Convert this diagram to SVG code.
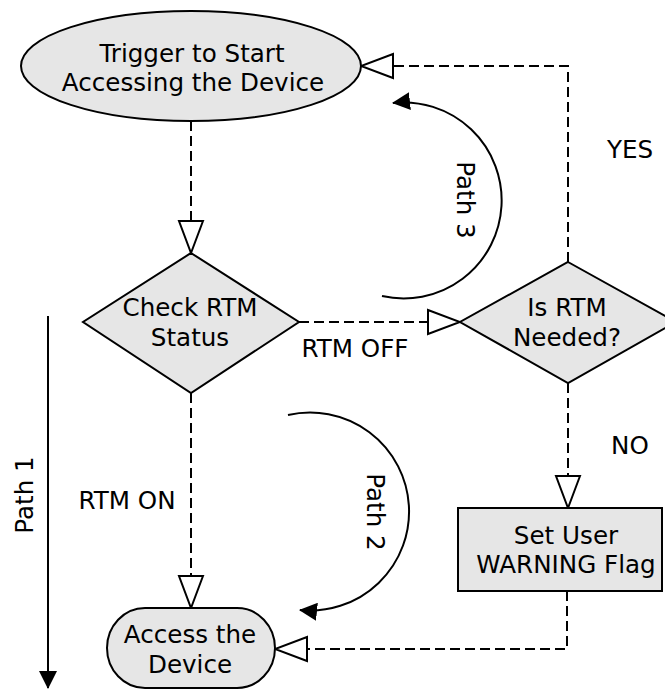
<svg xmlns="http://www.w3.org/2000/svg" width="665" height="690" viewBox="0 0 665 690">
  <style>
    .shape { fill: #e6e6e6; stroke: #000; stroke-width: 2; }
    .lbl { font-family: "DejaVu Sans", "Liberation Sans", sans-serif; font-size: 24.6px; fill: #000; text-anchor: middle; }
    .dash { fill: none; stroke: #000; stroke-width: 2; stroke-dasharray: 10 5; marker-end: url(#hollow); }
    .solid { fill: none; stroke: #000; stroke-width: 2; marker-end: url(#filled); }
  </style>
  <defs>
    <marker id="hollow" viewBox="0 0 36 28" refX="34" refY="14" markerWidth="36" markerHeight="28" markerUnits="userSpaceOnUse" orient="auto">
      <path d="M2,2 L34,14 L2,26 Z" fill="#fff" stroke="#000" stroke-width="2" stroke-dasharray="none"/>
    </marker>
    <marker id="filled" viewBox="0 0 18 18" refX="17" refY="9" markerWidth="18" markerHeight="18" markerUnits="userSpaceOnUse" orient="auto">
      <path d="M0,0 L18,9 L0,18 Z" fill="#000"/>
    </marker>
  </defs>

  <g id="connectors">
    <path class="dash" d="M191 121 V253"/>
    <path class="dash" d="M299 322 H460"/>
    <path class="dash" d="M568 262 V66 H361"/>
    <path class="dash" d="M191 393 V608"/>
    <path class="dash" d="M568 383 V508"/>
    <path class="dash" d="M567 591 V649 H275"/>
    <path class="solid" d="M382 296 A 98 98 0 1 0 393 103"/>
    <path class="solid" d="M288 415 A 99 99 0 1 1 300 610"/>
    <path class="solid" d="M48 316 V688"/>
  </g>

  <g id="trigger">
    <ellipse class="shape" cx="191" cy="66" rx="170" ry="55"/>
    <text class="lbl" x="192" y="62">Trigger to Start</text>
    <text class="lbl" x="193" y="91">Accessing the Device</text>
  </g>

  <g id="check-rtm">
    <polygon class="shape" points="191,253 299,322 191,393 83,322"/>
    <text class="lbl" x="190" y="316">Check RTM</text>
    <text class="lbl" x="190" y="346">Status</text>
  </g>

  <g id="is-rtm-needed">
    <polygon class="shape" points="568,262 676,322 568,383 460,322"/>
    <text class="lbl" x="567" y="316">Is RTM</text>
    <text class="lbl" x="567" y="346">Needed?</text>
  </g>

  <g id="set-warning">
    <rect class="shape" x="458" y="508" width="204" height="83"/>
    <text class="lbl" x="566" y="544">Set User</text>
    <text class="lbl" x="566" y="573">WARNING Flag</text>
  </g>

  <g id="access-device">
    <rect class="shape" x="107" y="608" width="168" height="80" rx="38" ry="40"/>
    <text class="lbl" x="190" y="643">Access the</text>
    <text class="lbl" x="190" y="673">Device</text>
  </g>

  <g id="labels">
    <text class="lbl" x="355" y="357">RTM OFF</text>
    <text class="lbl" x="127" y="509">RTM ON</text>
    <text class="lbl" x="630" y="158">YES</text>
    <text class="lbl" x="630" y="454">NO</text>
    <text class="lbl" transform="translate(33,495) rotate(-90)">Path 1</text>
    <text class="lbl" transform="translate(457,200) rotate(90)">Path 3</text>
    <text class="lbl" transform="translate(367,512) rotate(90)">Path 2</text>
  </g>
</svg>
